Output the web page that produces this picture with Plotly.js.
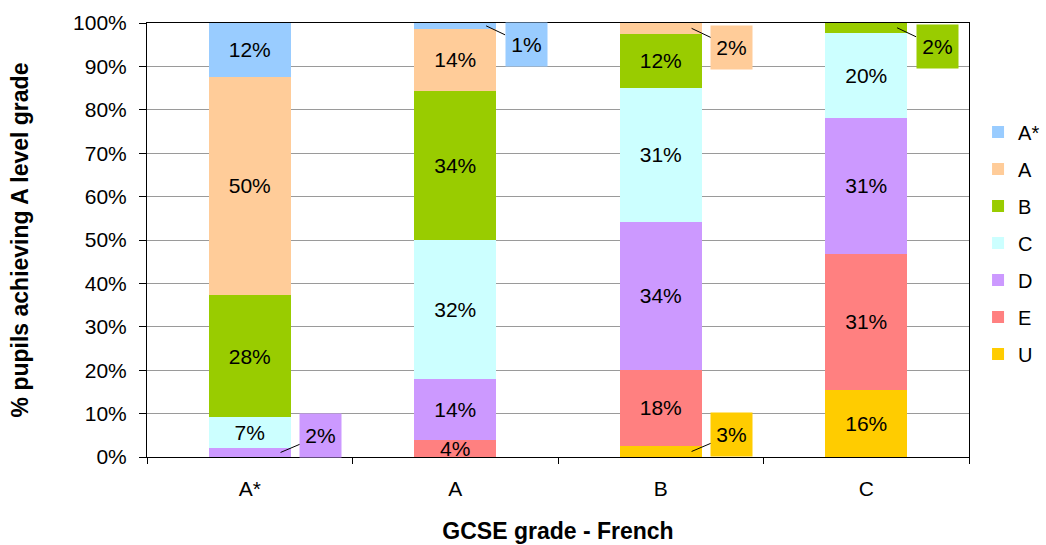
<!DOCTYPE html>
<html>
<head>
<meta charset="utf-8">
<script src="https://cdn.plot.ly/plotly-3.0.1.min.js"></script>
<style>
  html, body { margin: 0; padding: 0; background: #fff; }
  #chart { width: 1046px; height: 545px; }
</style>
</head>
<body>
<div id="chart"></div>
<script>
// GCSE grade in French (x) -> share of pupils at each A level grade
const gcseGrades = ["A*", "A", "B", "C"];

// stacked bottom to top
const gradeU = [0, 0, 2.54, 15.5];
const gradeE = [0, 3.9, 17.6, 31.3];
const gradeD = [2.1, 14.1, 33.98, 31.4];
const gradeC = [7.1, 31.9, 30.97, 19.6];
const gradeB = [28.1, 34.4, 12.45, 2.2];
const gradeA = [50.3, 14.4, 2.46, 0];
const gradeAStar = [12.4, 1.3, 0, 0];

const seriesNames = ["U", "E", "D", "C", "B", "A", "A*"];
const seriesValues = [gradeU, gradeE, gradeD, gradeC, gradeB, gradeA, gradeAStar];
const seriesColors = ["#FFCC00", "#FF8080", "#CC99FF", "#CCFFFF", "#99CC00", "#FFCC99", "#99CCFF"];

const FONT = "Liberation Sans, Arial, sans-serif";
const SMALL = 3.5; // segments thinner than this get a callout label

const traces = seriesNames.map((name, i) => ({
  type: "bar",
  name: name,
  x: gcseGrades,
  y: seriesValues[i],
  legendgroup: name,
  legendrank: seriesNames.length - i, // A* on top of the legend
  marker: { color: seriesColors[i], line: { width: 0 } },
  text: seriesValues[i].map(v => (v >= SMALL ? Math.round(v) + "%" : "")),
  textposition: "inside",
  insidetextanchor: "middle",
  constraintext: "none",
  textangle: 0,
  textfont: { family: FONT, size: 21, color: "#000" },
  cliponaxis: false,
  hoverinfo: "x+y+name"
}));

// callout labels for the thin segments
const annotations = [];
gcseGrades.forEach((g, c) => {
  let base = 0;
  seriesValues.forEach((vals, i) => {
    const v = vals[c];
    if (v > 0 && v < SMALL) {
      const mid = base + v / 2;
      const top = mid > 50;
      annotations.push({
        x: c + 0.15, y: mid, xref: "x", yref: "y",
        text: Math.round(v) + "%",
        showarrow: true, arrowhead: 0, arrowwidth: 1, arrowcolor: "#000",
        ax: 40, ay: top ? 19 : -17,
        width: 41, height: 43, borderpad: 0,
        bgcolor: seriesColors[i],
        font: { family: FONT, size: 21, color: "#000" }
      });
    }
    base += v;
  });
});

const layout = {
  width: 1046,
  height: 545,
  margin: { l: 147, r: 77, t: 23, b: 88, autoexpand: false },
  paper_bgcolor: "#fff",
  plot_bgcolor: "#fff",
  font: { family: FONT, size: 21, color: "#000" },
  barmode: "stack",
  bargap: 0.6,
  showlegend: true,
  legend: {
    x: 1.011, xanchor: "left", y: 0.493, yanchor: "middle",
    traceorder: "grouped", tracegroupgap: 8,
    font: { family: FONT, size: 20, color: "#000" }
  },
  xaxis: {
    type: "category",
    showline: true, linecolor: "#000", linewidth: 1, mirror: true,
    ticks: "outside", tickson: "boundaries", ticklen: 6, tickcolor: "#000",
    ticklabelstandoff: 13,
    showgrid: false,
    tickfont: { family: FONT, size: 21 },
    title: { text: "GCSE grade - French", font: { family: FONT, size: 23, weight: "bold" }, standoff: 23 }
  },
  yaxis: {
    range: [0, 100], dtick: 10, ticksuffix: "%",
    showline: true, linecolor: "#000", linewidth: 1, mirror: true,
    ticks: "outside", ticklen: 7, tickcolor: "#000",
    ticklabelstandoff: 8,
    showgrid: true, gridcolor: "#9a9a9a", gridwidth: 1,
    zeroline: false,
    tickfont: { family: FONT, size: 21 },
    title: { text: "% pupils achieving A level grade", font: { family: FONT, size: 23, weight: "bold" }, standoff: 38 }
  },
  annotations: annotations
};

Plotly.newPlot("chart", traces, layout, { displayModeBar: false, staticPlot: true });
</script>
</body>
</html>
